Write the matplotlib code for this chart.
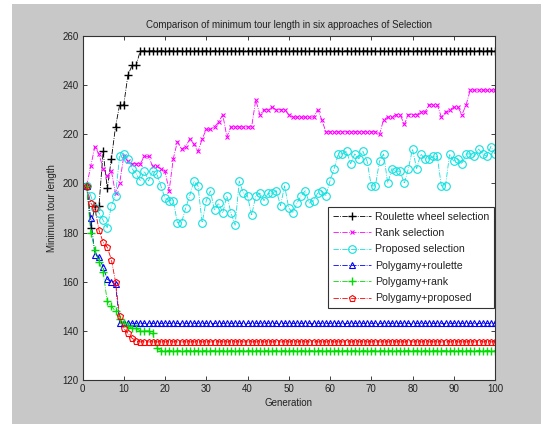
import matplotlib
matplotlib.use("Agg")
import matplotlib.pyplot as plt
from matplotlib.patches import Rectangle
import numpy as np

generations = list(range(1, 101))

roulette = [199, 182, 191, 191, 213, 198, 210, 223, 232, 232,
            244, 248, 248] + [254] * 87

rank = [199, 207, 215, 212, 206, 203, 205, 196, 200, 211,
        209, 208, 208, 208, 211, 211, 207, 207, 206, 205,
        197, 210, 217, 214, 215, 218, 216, 213, 218, 222,
        222, 223, 225, 228, 219, 223, 223, 223, 223, 223,
        223, 234, 228, 230, 230, 231, 230, 230, 230, 228,
        227, 227, 227, 227, 227, 227, 230, 226, 221, 221,
        221, 221, 221, 221, 221, 221, 221, 221, 221, 221,
        221, 220, 226, 227, 227, 228, 228, 224, 228, 228,
        228, 229, 229, 232, 232, 232, 227, 229, 230, 231,
        231, 228, 232, 238, 238, 238, 238, 238, 238, 238]

proposed = [199, 195, 190, 188, 185, 182, 191, 195, 211, 212,
            210, 206, 204, 201, 205, 201, 205, 204, 199, 194,
            193, 193, 184, 184, 190, 195, 201, 199, 184, 193,
            197, 189, 192, 188, 195, 188, 183, 201, 196, 195,
            187, 195, 196, 193, 196, 196, 197, 191, 199, 190,
            188, 192, 195, 197, 192, 193, 196, 197, 195, 201,
            206, 212, 212, 213, 208, 212, 210, 213, 209, 199,
            199, 209, 212, 200, 206, 205, 205, 200, 206, 214,
            206, 212, 210, 210, 211, 211, 199, 199, 212, 209,
            210, 208, 212, 212, 211, 214, 212, 211, 215, 212]

poly_roulette = [199, 186, 171, 170, 166, 161, 160, 159] + [143] * 92

poly_rank = [199, 180, 173, 168, 164, 152, 150, 148, 145, 143,
             142, 141, 141, 140, 140, 140, 139, 133] + [132] * 82

poly_proposed = [199, 192, 190, 181, 176, 174, 169, 160, 146, 141,
                 139, 137, 136] + [135.5] * 87

labels = ["Roulette wheel selection", "Rank selection", "Proposed selection",
          "Polygamy+roulette", "Polygamy+rank", "Polygamy+proposed"]

plt.rcParams['font.family'] = ['Liberation Sans', 'DejaVu Sans']

fig = plt.figure(figsize=(5.48, 4.28), dpi=100)
fig.patch.set_facecolor('white')
fig.patches.append(Rectangle((12 / 548, 4 / 428), (541 - 12) / 548, (424 - 4) / 428,
                             transform=fig.transFigure, facecolor='#c8c8c8',
                             edgecolor='none', zorder=-10))

ax = fig.add_axes([82.5 / 548, 1 - 380 / 428, (495 - 82.5) / 548, (380 - 36) / 428])
ax.set_zorder(5)
ax.set_facecolor('white')

lw = 0.6
ax.plot(generations, roulette, '-.', color='black', lw=lw, marker='+', ms=6, mew=1.0,
        label=labels[0])
ax.plot(generations, rank, '-.', color='#ff00ff', lw=lw, marker='x', ms=3, mew=0.8,
        label=labels[1])
ax.plot(generations, proposed, '-.', color='#10e0e0', lw=lw, marker='o', ms=5.5, mew=0.8,
        mfc='none', label=labels[2])
ax.plot(generations, poly_roulette, '-.', color='#0000ff', lw=lw, marker='^', ms=5, mew=0.8,
        mfc='none', label=labels[3])
ax.plot(generations, poly_rank, '-.', color='#00dd00', lw=lw, marker='+', ms=6, mew=1.0,
        label=labels[4])
ax.plot(generations, poly_proposed, '-.', color='#ff0000', lw=lw, marker='p', ms=5, mew=0.8,
        mfc='none', label=labels[5])

ax.set_xlim(0, 100)
ax.set_ylim(120, 260)
ax.set_xticks(np.arange(0, 101, 10))
ax.set_yticks(np.arange(120, 261, 20))
ax.tick_params(direction='in', top=True, right=True, length=3, width=0.6,
               labelsize=7, colors='#222222', pad=3)
for s in ax.spines.values():
    s.set_linewidth(0.8)
    s.set_color('#333333')

ax.set_title("Comparison of minimum tour length in six approaches of Selection",
             fontsize=7, color='#222222', pad=6)
ax.set_xlabel("Generation", fontsize=7, color='#222222', labelpad=3)
ax.set_ylabel("Minimum tour length", fontsize=7, color='#222222', labelpad=4)

leg = ax.legend(loc='upper right', bbox_to_anchor=(0.997, 0.503), fontsize=7.6,
                frameon=True, fancybox=False, framealpha=1, edgecolor='#333333',
                handlelength=3.6, labelspacing=0.6, borderpad=0.45, handletextpad=0.4,
                borderaxespad=0)
leg.get_frame().set_linewidth(0.8)
for t in leg.get_texts():
    t.set_color('#222222')

fig.savefig("out.png", dpi=100, facecolor=fig.get_facecolor())
